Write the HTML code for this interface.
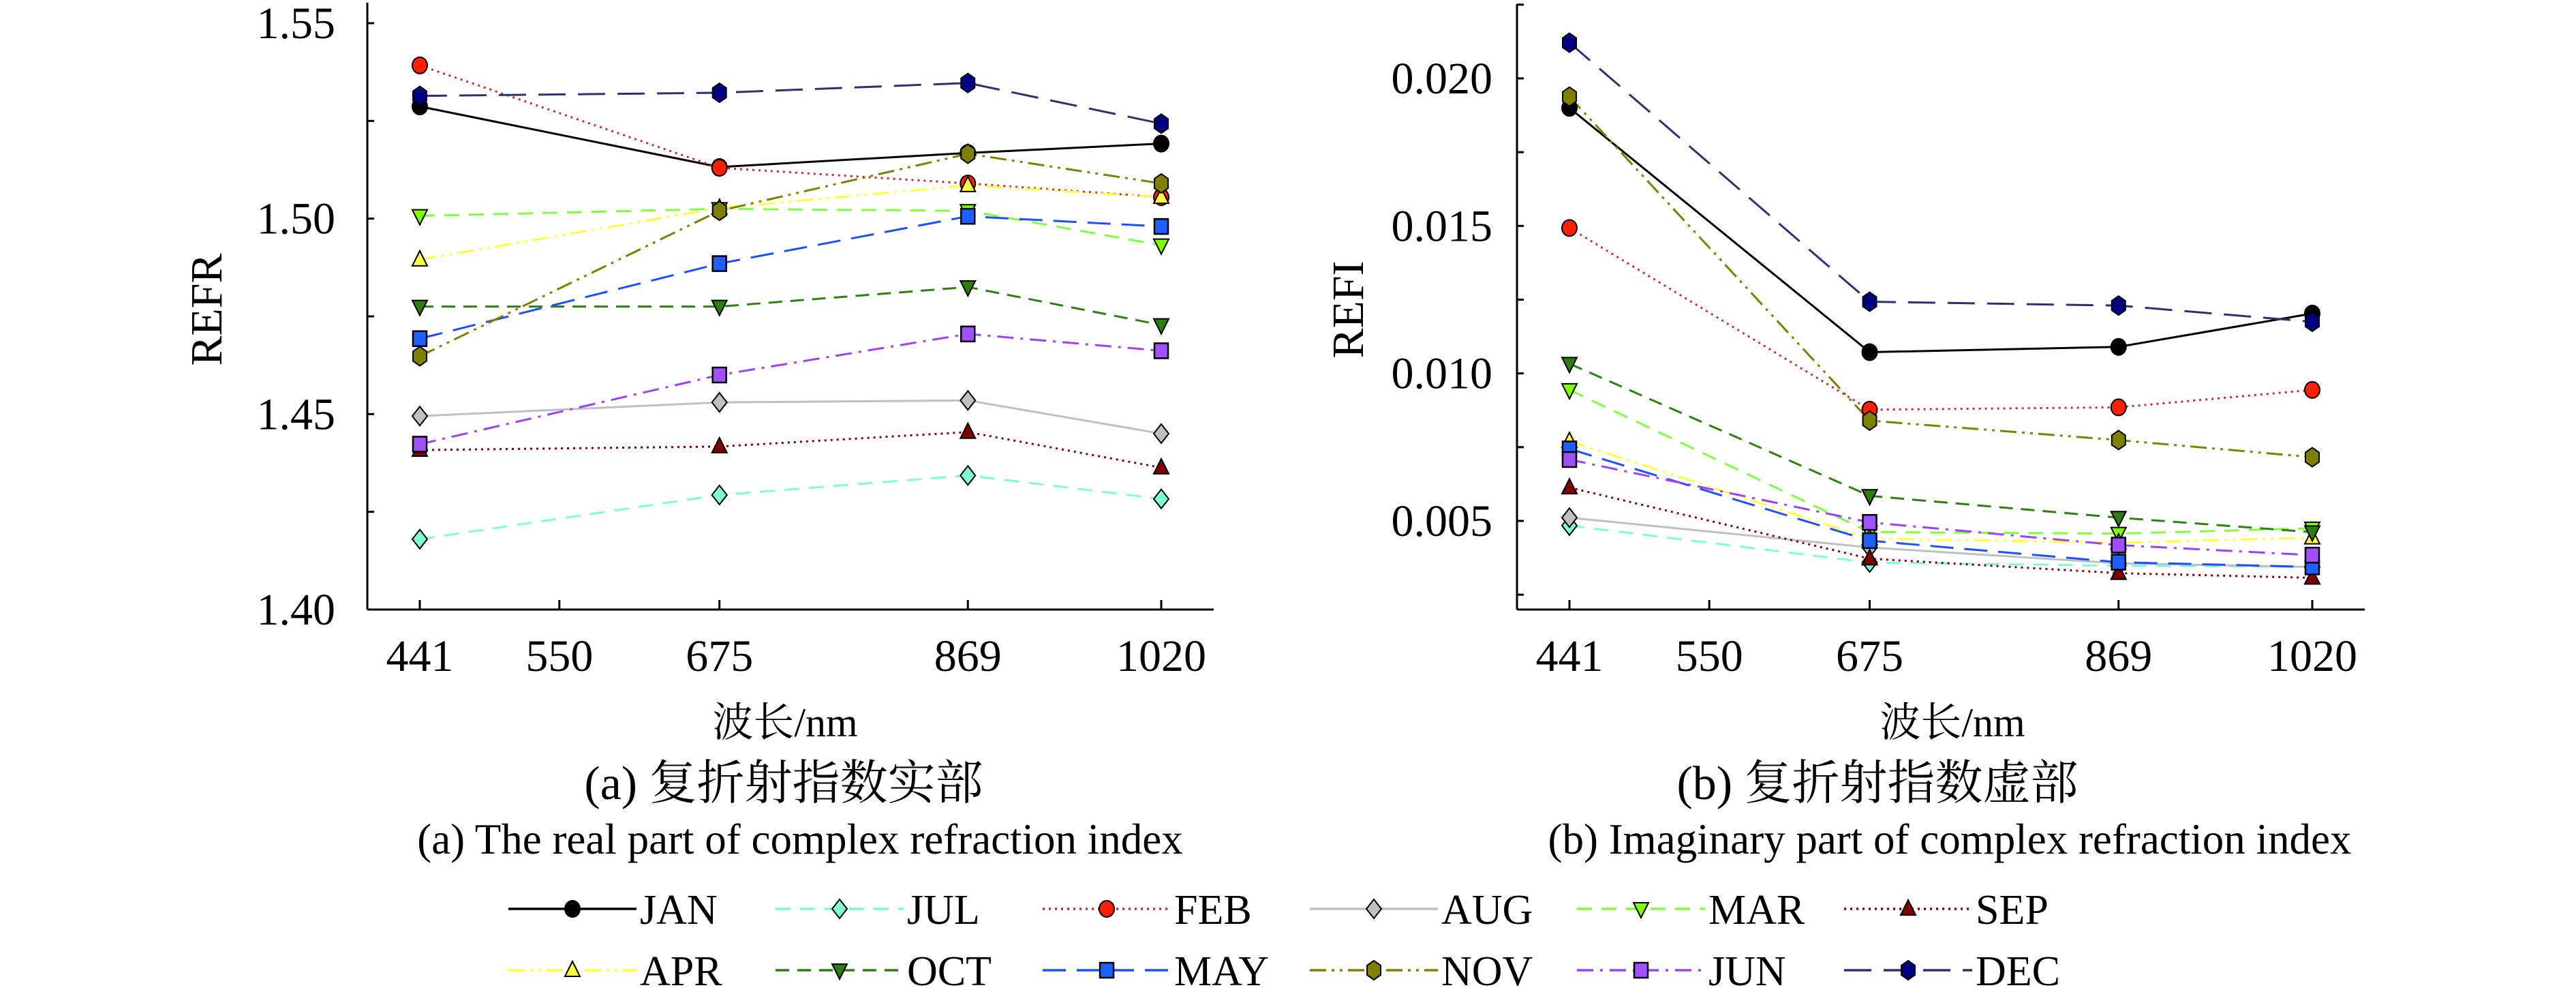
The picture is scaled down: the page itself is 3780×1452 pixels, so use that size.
<!DOCTYPE html>
<html><head><meta charset="utf-8">
<style>
html,body{margin:0;padding:0;background:#fff;}
svg{display:block;}
text{font-family:"Liberation Serif","Noto Serif CJK SC",serif;fill:#000;}
</style></head>
<body>
<svg id="fig" width="3780" height="1452" viewBox="0 0 3780 1452" xmlns="http://www.w3.org/2000/svg">
<g id="chartA"></g>
<g id="chartB"></g>
<g id="legend"></g>
<text x="1150" y="1172" font-size="70" text-anchor="middle">(a) 复折射指数实部</text>
<text x="1174" y="1252" font-size="63" text-anchor="middle">(a) The real part of complex refraction index</text>
<text x="2755" y="1172" font-size="70" text-anchor="middle">(b) 复折射指数虚部</text>
<text x="2861" y="1252" font-size="63" text-anchor="middle">(b) Imaginary part of complex refraction index</text>
</svg>
<script>
const wavelengths = [441, 675, 869, 1020];
const xTicks = [441, 550, 675, 869, 1020];
const months = ["JAN","JUL","FEB","AUG","MAR","SEP","APR","OCT","MAY","NOV","JUN","DEC"];
const refrJAN = [1.5287, 1.5132, 1.5168, 1.5192];
const refrJUL = [1.4180, 1.4293, 1.4343, 1.4283];
const refrFEB = [1.5392, 1.5130, 1.5090, 1.5055];
const refrAUG = [1.4495, 1.4530, 1.4535, 1.4450];
const refrMAR = [1.5007, 1.5025, 1.5020, 1.4932];
const refrSEP = [1.4408, 1.4417, 1.4454, 1.4363];
const refrAPR = [1.4895, 1.5027, 1.5085, 1.5055];
const refrOCT = [1.4775, 1.4775, 1.4825, 1.4728];
const refrMAY = [1.4693, 1.4885, 1.5006, 1.4980];
const refrNOV = [1.4648, 1.5020, 1.5166, 1.5090];
const refrJUN = [1.4423, 1.4600, 1.4705, 1.4662];
const refrDEC = [1.5314, 1.5322, 1.5347, 1.5243];
const refiJAN = [0.01900, 0.01072, 0.01090, 0.01203];
const refiJUL = [0.00484, 0.00359, 0.00348, 0.00344];
const refiFEB = [0.01493, 0.00877, 0.00885, 0.00944];
const refiAUG = [0.00511, 0.00410, 0.00356, 0.00344];
const refiMAR = [0.00944, 0.00462, 0.00457, 0.00475];
const refiSEP = [0.00613, 0.00372, 0.00323, 0.00307];
const refiAPR = [0.00770, 0.00440, 0.00426, 0.00443];
const refiOCT = [0.01033, 0.00585, 0.00511, 0.00462];
const refiMAY = [0.00744, 0.00433, 0.00360, 0.00344];
const refiNOV = [0.01938, 0.00840, 0.00774, 0.00716];
const refiJUN = [0.00708, 0.00495, 0.00418, 0.00384];
const refiDEC = [0.02121, 0.01243, 0.01230, 0.01175];
const refrTicks = ["1.40","1.45","1.50","1.55"];
const refiTicks = ["0.005","0.010","0.015","0.020"];

const refrData = [refrJAN,refrJUL,refrFEB,refrAUG,refrMAR,refrSEP,refrAPR,refrOCT,refrMAY,refrNOV,refrJUN,refrDEC];
const refiData = [refiJAN,refiJUL,refiFEB,refiAUG,refiMAR,refiSEP,refiAPR,refiOCT,refiMAY,refiNOV,refiJUN,refiDEC];

const styles = {
 JAN:{line:"#000",fill:"#000",dash:"",m:"circle"},
 JUL:{line:"#7fffd4",fill:"#7fffd4",dash:"22 14",m:"diamond"},
 FEB:{line:"#c03030",fill:"#ff2000",dash:"3 6",m:"circle"},
 AUG:{line:"#c0c0c0",fill:"#c0c0c0",dash:"",m:"diamond"},
 MAR:{line:"#80ff40",fill:"#80ff00",dash:"22 14",m:"tridown"},
 SEP:{line:"#800000",fill:"#800000",dash:"3 6",m:"triup"},
 APR:{line:"#ffff40",fill:"#ffff40",dash:"24 8 4 8 4 8",m:"triup"},
 OCT:{line:"#2e8010",fill:"#2e7d10",dash:"20 12",m:"tridown"},
 MAY:{line:"#1e50ff",fill:"#1e60ff",dash:"34 16",m:"square"},
 NOV:{line:"#808000",fill:"#808000",dash:"24 8 4 8 4 8",m:"hex"},
 JUN:{line:"#a040ff",fill:"#a050ff",dash:"24 10 4 10",m:"square"},
 DEC:{line:"#303070",fill:"#000080",dash:"40 18",m:"hex"}
};
const NS="http://www.w3.org/2000/svg";
function mk(tag, attrs, parent){const e=document.createElementNS(NS,tag);for(const k in attrs)e.setAttribute(k,attrs[k]);parent.appendChild(e);return e;}
function marker(g,type,x,y,fill){
 let e;
 if(type==="circle"){e=mk("ellipse",{cx:x,cy:y,rx:11,ry:12,fill:fill,stroke:"#000","stroke-width":2},g);}
 else if(type==="square"){e=mk("rect",{x:x-10,y:y-11,width:20,height:22,fill:fill,stroke:"#000","stroke-width":2.5},g);}
 else if(type==="diamond"){e=mk("polygon",{points:`${x},${y-14} ${x+11},${y} ${x},${y+14} ${x-11},${y}`,fill:fill,stroke:"#000","stroke-width":2},g);}
 else if(type==="triup"){e=mk("polygon",{points:`${x},${y-13} ${x+11},${y+9} ${x-11},${y+9}`,fill:fill,stroke:"#000","stroke-width":2},g);}
 else if(type==="tridown"){e=mk("polygon",{points:`${x-11},${y-9} ${x+11},${y-9} ${x},${y+13}`,fill:fill,stroke:"#000","stroke-width":2},g);}
 else {e=mk("polygon",{points:`${x},${y-14} ${x+10},${y-7} ${x+10},${y+7} ${x},${y+14} ${x-10},${y+7} ${x-10},${y-7}`,fill:fill,stroke:"#000","stroke-width":2},g);}
 return e;
}
function drawChart(g, cfg, data, tickLabels){
 const xs = v => cfg.x441 + (v-441)*(cfg.x1020-cfg.x441)/(1020-441);
 const ys = v => cfg.yA + (v-cfg.vA)*(cfg.yB-cfg.yA)/(cfg.vB-cfg.vA);
 const ax=mk("line",{x1:cfg.axX,y1:cfg.top,x2:cfg.axX,y2:cfg.bottom,stroke:"#000","stroke-width":3},g);
 
 
 const bx=mk("line",{x1:cfg.axX,y1:cfg.bottom,x2:cfg.right,y2:cfg.bottom,stroke:"#000","stroke-width":3},g);
 
 
 for(let i=0;i<cfg.nMinor;i++){
  const v = cfg.minor0 + i*cfg.minorStep;
  const y = ys(v);
  if(y<cfg.top-1||y>cfg.bottom+1) continue;
  const t=mk("line",{x1:cfg.axX,y1:y,x2:cfg.axX+10,y2:y,stroke:"#000","stroke-width":3},g);
  
  
 }
 tickLabels.forEach(lbl=>{
  const t=mk("text",{x:cfg.labelX,y:ys(parseFloat(lbl))+22,"font-size":66,"text-anchor":"end"},g);
  t.textContent=lbl;
  
  
 });
 xTicks.forEach(v=>{
  const x=xs(v);
  const t=mk("line",{x1:x,y1:cfg.bottom,x2:x,y2:cfg.bottom-14,stroke:"#000","stroke-width":3},g);
  
  
  const l=mk("text",{x:x,y:984,"font-size":66,"text-anchor":"middle"},g);
  l.textContent=String(v);
  
  
 });
 const yl=mk("text",{x:0,y:0,"font-size":66,"text-anchor":"middle",transform:`translate(${cfg.ylabX},${cfg.ylabY}) rotate(-90)`},g);
 yl.textContent=cfg.ylabel;
 
 
 const xl=mk("text",{x:cfg.xlabX,y:1080,"font-size":60,"text-anchor":"middle"},g);
 xl.textContent="波长/nm";
 
 
 data.forEach((arr,i)=>{
  const st=styles[months[i]];
  const pts=arr.map((v,j)=>`${xs(wavelengths[j])},${ys(v)}`).join(" ");
  const pl=mk("polyline",{points:pts,fill:"none",stroke:st.line,"stroke-width":3,"stroke-dasharray":st.dash},g);
  
  
 });
 data.forEach((arr,i)=>{
  const st=styles[months[i]];
  arr.forEach((v,j)=>{
   const m=marker(g,st.m,xs(wavelengths[j]),ys(v),st.fill);
   
   
  });
 });
}
drawChart(document.getElementById("chartA"),
 {x441:616,x1020:1704,yA:894,vA:1.40,yB:34,vB:1.55,axX:539,top:4,bottom:894,right:1781,
  minor0:1.40,minorStep:0.025,nMinor:7,labelX:492,ylabel:"REFR",ylabX:325,ylabY:454,xlabX:1152},
 refrData, refrTicks);
drawChart(document.getElementById("chartB"),
 {x441:2303,x1020:3393,yA:764,vA:0.005,yB:115,vB:0.020,axX:2226,top:6,bottom:894,right:3470,
  minor0:0.0025,minorStep:0.0025,nMinor:9,labelX:2190,ylabel:"REFI",ylabX:2000,ylabY:454,xlabX:2865},
 refiData, refiTicks);
const lg=document.getElementById("legend");
months.forEach((mo,i)=>{
 const row=Math.floor(i/6), col=i%6;
 const x0=746+col*392, y=1333+row*90;
 const st=styles[mo];
 const g=mk("g",{},lg);
 
 
 mk("line",{x1:x0,y1:y,x2:x0+188,y2:y,stroke:st.line,"stroke-width":3.5,"stroke-dasharray":st.dash},g);
 marker(g,st.m,x0+94,y,st.fill);
 const t=mk("text",{x:x0+193,y:y+22,"font-size":62},g);
 t.textContent=mo;
});
</script>
</body></html>
